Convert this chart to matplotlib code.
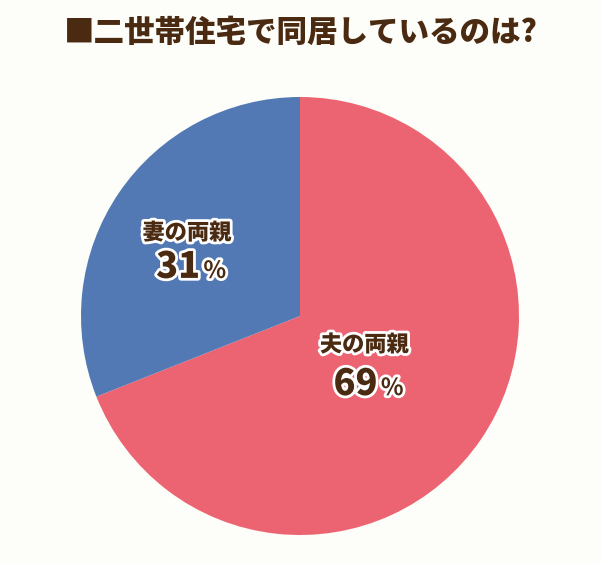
import matplotlib
matplotlib.use("Agg")
import matplotlib.pyplot as plt
import matplotlib.patheffects as pe

plt.rcParams['font.family'] = ['Noto Sans CJK JP', 'DejaVu Sans']

title = "■二世帯住宅で同居しているのは?"
labels = ["夫の両親", "妻の両親"]
values = [69, 31]
colors = ["#EC6472", "#5279B4"]
# label centre (x, y) and number baseline y, in pie units
label_pos = [(0.294, -0.132, -0.361), (-0.516, 0.379, 0.174)]

text_color = "#4A2A10"
stroke = [pe.withStroke(linewidth=4, foreground="white")]

fig = plt.figure(figsize=(6.01, 5.63), dpi=100, facecolor="#FDFDF9")
ax = fig.add_axes([81/601, 28/563, 438/601, 438/563])
ax.pie(values, colors=colors, startangle=90, counterclock=False,
       radius=1, wedgeprops=dict(linewidth=0))
ax.set_xlim(-1, 1)
ax.set_ylim(-1, 1)
ax.set_aspect("equal")
ax.axis("off")

for lab, val, (x, y, yb) in zip(labels, values, label_pos):
    ax.text(x, y, lab, ha="center", va="center", fontsize=16,
            fontweight="heavy", color=text_color, path_effects=stroke)
    ax.text(x + 0.06, yb, str(val), ha="right", va="baseline", fontsize=26,
            fontweight="heavy", color=text_color, path_effects=stroke)
    ax.text(x + 0.075, yb, "%", ha="left", va="baseline", fontsize=17,
            fontweight="bold", color=text_color, path_effects=stroke)

fig.text(0.5, 1 - 32/563, title, ha="center", va="center", fontsize=22,
         fontweight="heavy", color=text_color)

fig.savefig("out.png", dpi=100, facecolor=fig.get_facecolor())
